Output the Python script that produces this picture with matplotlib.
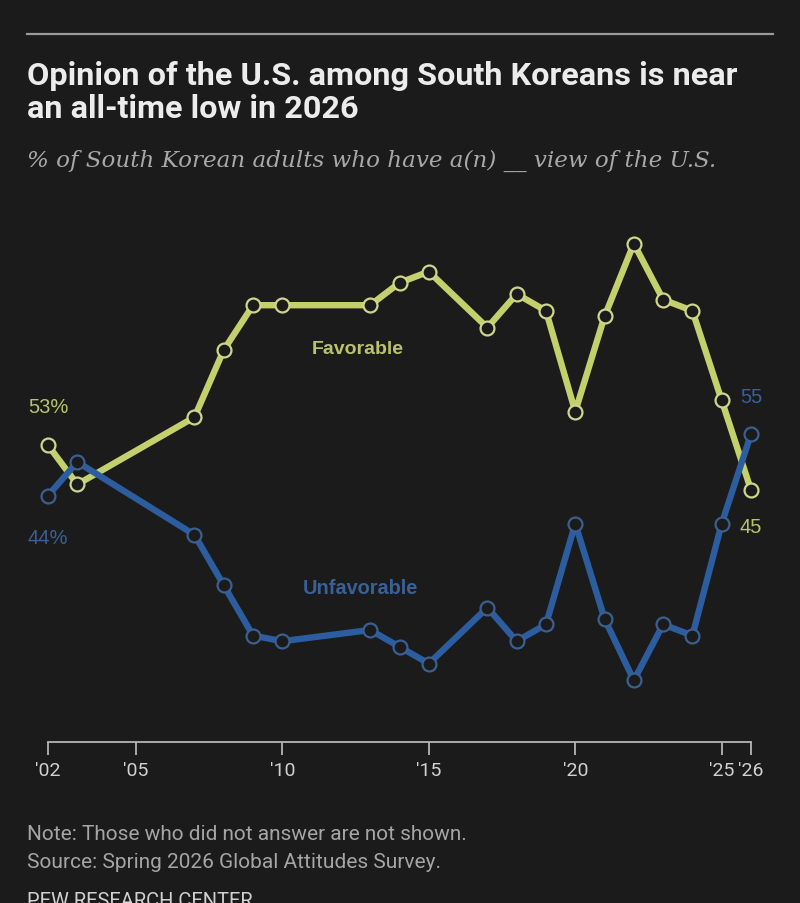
import matplotlib
matplotlib.use("Agg")
import matplotlib.pyplot as plt
from matplotlib.lines import Line2D

# ---- data ----
years = [2002, 2003, 2007, 2008, 2009, 2010, 2013, 2014, 2015, 2017, 2018,
         2019, 2020, 2021, 2022, 2023, 2024, 2025, 2026]
favorable = [53, 46, 58, 70, 78, 78, 78, 82, 84, 74, 80, 77, 59, 76, 89, 79, 77, 61, 45]
unfavorable = [44, 50, 37, 28, 19, 18, 20, 17, 14, 24, 18, 21, 39, 22, 11, 21, 19, 39, 55]
tick_years = [2002, 2005, 2010, 2015, 2020, 2025, 2026]
tick_labels = ["'02", "'05", "'10", "'15", "'20", "'25", "'26"]

BG = "#1b1b1b"
FAV = "#c2d16b"
UNF = "#2c5d9f"
FAV_T = "#b7c46c"
UNF_T = "#3a6098"

W, H = 800, 904
fig = plt.figure(figsize=(W / 100, H / 100), dpi=100, facecolor=BG)

def fx(px):
    return px / W

def fy(py):
    return 1 - py / H

cond = ["Roboto", "DejaVu Sans"]

# top rule
fig.add_artist(Line2D([fx(27), fx(773)], [fy(35), fy(35)], color="#9a9a9a", lw=1.6))

# title
fig.text(fx(27), fy(76), "Opinion of the U.S. among South Koreans is near",
         color="#ececec", fontsize=23.3, fontweight="bold", family=cond, va="center", ha="left")
fig.text(fx(27), fy(109), "an all-time low in 2026",
         color="#ececec", fontsize=23.3, fontweight="bold", family=cond, va="center", ha="left")
fig.text(fx(27), fy(161), "% of South Korean adults who have a(n) __ view of the U.S.",
         color="#a8a8a8", fontsize=16.6, style="italic", family=["DejaVu Serif"],
         va="center", ha="left")

# axes
ax_left, ax_right = 48, 751
ax_bottom, ax_top = 743, 183
ax = fig.add_axes([fx(ax_left), fy(ax_bottom), (ax_right - ax_left) / W, (ax_bottom - ax_top) / H])
ax.set_facecolor(BG)
ax.set_xlim(2002, 2026)
ax.set_ylim(0, 100)
for s in ["top", "right", "left"]:
    ax.spines[s].set_visible(False)
ax.spines["bottom"].set_color("#b5b5b5")
ax.spines["bottom"].set_linewidth(1.3)
ax.set_yticks([])
ax.set_xticks(tick_years)
ax.set_xticklabels(tick_labels)
ax.tick_params(axis="x", length=9, width=1.3, color="#b5b5b5", colors="#d0d0d0",
               labelsize=14, pad=5)
for lab in ax.get_xticklabels():
    lab.set_family(cond)

ax.plot(years, favorable, color=FAV, lw=4.6, marker="o", markersize=10,
        markerfacecolor=BG, markeredgecolor="#cdd68c", markeredgewidth=1.6,
        clip_on=False, zorder=3)
ax.plot(years, unfavorable, color=UNF, lw=4.6, marker="o", markersize=10,
        markerfacecolor=BG, markeredgecolor="#3a5f92", markeredgewidth=1.6,
        clip_on=False, zorder=3)

# labels
lab_font = ["Liberation Sans", "DejaVu Sans"]
ax.annotate(f"{favorable[0]}%", (years[0], favorable[0]), xytext=(0, 39), textcoords="offset pixels",
            ha="center", va="center", color=FAV_T, fontsize=14.5, family=lab_font)
ax.annotate(f"{unfavorable[0]}%", (years[0], unfavorable[0]), xytext=(0, -42), textcoords="offset pixels",
            ha="center", va="center", color=UNF_T, fontsize=14.5, family=lab_font)
ax.annotate(f"{unfavorable[-1]}", (years[-1], unfavorable[-1]), xytext=(0, 37), textcoords="offset pixels",
            ha="center", va="center", color=UNF_T, fontsize=14.5, family=lab_font)
ax.annotate(f"{favorable[-1]}", (years[-1], favorable[-1]), xytext=(0, -37), textcoords="offset pixels",
            ha="center", va="center", color=FAV_T, fontsize=14.5, family=lab_font)

fig.text(fx(358), fy(349), "Favorable", color=FAV_T, fontsize=14, fontweight="bold",
         family=lab_font, ha="center", va="center")
fig.text(fx(360), fy(589), "Unfavorable", color=UNF_T, fontsize=14.3, fontweight="bold",
         family=lab_font, ha="center", va="center")

# footer
fig.text(fx(27), fy(834), "Note: Those who did not answer are not shown.", color="#a5a5a5",
         fontsize=15, family=cond, ha="left", va="center")
fig.text(fx(27), fy(863), "Source: Spring 2026 Global Attitudes Survey.", color="#a5a5a5",
         fontsize=15, family=cond, ha="left", va="center")
fig.text(fx(27), fy(892), "PEW RESEARCH CENTER", color="#d0d0d0",
         fontsize=14.5, family=cond, ha="left", va="top")

fig.savefig("out.png", dpi=100, facecolor=BG)
